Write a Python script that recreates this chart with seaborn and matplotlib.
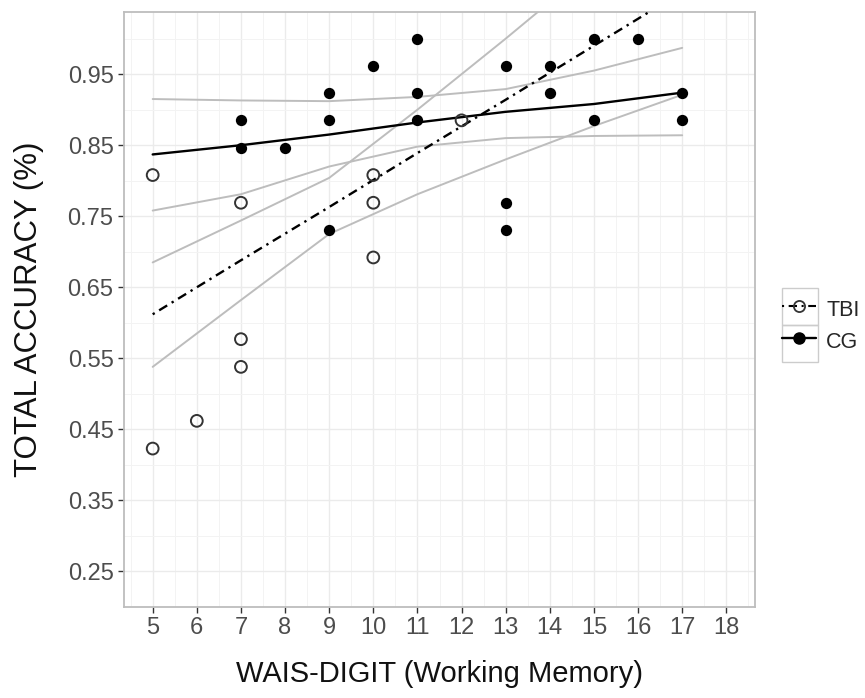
import numpy as np
import pandas as pd
import matplotlib
matplotlib.use("Agg")
import matplotlib.pyplot as plt
import seaborn as sns
from matplotlib.lines import Line2D
from matplotlib.patches import Rectangle

# ---- data ----
tbi_x = [5, 5, 6, 7, 7, 7, 10, 10, 10, 12]
tbi_y = [0.808, 0.423, 0.462, 0.769, 0.577, 0.538, 0.808, 0.769, 0.692, 0.885]
cg_x = [7, 7, 8, 9, 9, 9, 10, 11, 11, 11, 13, 13, 13, 14, 14, 15, 15, 16, 17, 17]
cg_y = [0.885, 0.846, 0.846, 0.923, 0.885, 0.731, 0.962, 1.0, 0.923, 0.885,
        0.962, 0.769, 0.731, 0.962, 0.923, 1.0, 0.885, 1.0, 0.923, 0.885]

fit_x = [5, 7, 9, 11, 13, 15, 17]
tbi_fit = [0.612, 0.688, 0.763, 0.839, 0.914, 0.990, 1.066]
tbi_lo = [0.538, 0.632, 0.725, 0.781, 0.830, 0.877, 0.921]
tbi_hi = [0.685, 0.744, 0.804, 0.900, 1.000, 1.103, 1.211]
cg_fit = [0.837, 0.850, 0.865, 0.882, 0.897, 0.908, 0.924]
cg_lo = [0.758, 0.781, 0.820, 0.848, 0.860, 0.863, 0.864]
cg_hi = [0.915, 0.913, 0.912, 0.918, 0.929, 0.955, 0.987]

x_ticks = list(range(5, 19))
y_ticks = [0.25, 0.35, 0.45, 0.55, 0.65, 0.75, 0.85, 0.95]
y_tick_labels = ["0.25", "0.35", "0.45", "0.55", "0.65", "0.75", "0.85", "0.95"]
groups = ["TBI", "CG"]
x_title = "WAIS-DIGIT (Working Memory)"
y_title = "TOTAL ACCURACY (%)"

# ---- style ----
sns.set_style("white")
plt.rcParams["font.family"] = ["Liberation Sans", "DejaVu Sans"]

W, H = 865, 698
fig = plt.figure(figsize=(W / 100, H / 100), dpi=100)
ax = fig.add_axes([124 / W, 1 - 607 / H, (755 - 124) / W, (607 - 12) / H])

ci_col = "#BDBDBD"
for ys in (tbi_lo, tbi_hi, cg_lo, cg_hi):
    sns.lineplot(x=fit_x, y=ys, ax=ax, color=ci_col, lw=1.4, estimator=None,
                 sort=False, zorder=2)
sns.lineplot(x=fit_x, y=tbi_fit, ax=ax, color="black", lw=1.7, estimator=None,
             sort=False, zorder=3, linestyle=(0, (1, 2.2, 4, 2.2)))
sns.lineplot(x=fit_x, y=cg_fit, ax=ax, color="black", lw=1.7, estimator=None,
             sort=False, zorder=3)

sns.scatterplot(x=cg_x, y=cg_y, ax=ax, color="black", s=66, edgecolor="black",
                linewidth=0, zorder=4)
sns.scatterplot(x=tbi_x, y=tbi_y, ax=ax, marker="o", s=72, facecolor="none",
                edgecolor="#333333", linewidth=1.4, zorder=5)

ax.set_xlim(4.35, 18.65)
ax.set_ylim(0.2125, 1.0375)
ax.set_xticks(x_ticks)
ax.set_xticklabels([str(v) for v in x_ticks])
ax.set_yticks(y_ticks)
ax.set_yticklabels(y_tick_labels)
ax.set_xticks([v + 0.5 for v in range(4, 19)], minor=True)
ax.set_yticks([0.2, 0.3, 0.4, 0.5, 0.6, 0.7, 0.8, 0.9, 1.0], minor=True)
ax.grid(which="major", color="#EBEBEB", lw=1.0, zorder=0)
ax.grid(which="minor", color="#F3F3F3", lw=0.7, zorder=0)
ax.set_axisbelow(True)
ax.tick_params(which="major", length=4.5, width=1, color="#333333",
               labelcolor="#4D4D4D", labelsize=17, pad=3,
               bottom=True, left=True)
ax.tick_params(which="minor", length=0)
for s in ax.spines.values():
    s.set_color("#BDBDBD")
    s.set_linewidth(1.3)

ax.set_xlabel(x_title, fontsize=21, color="#111111", labelpad=15)
ax.set_ylabel(y_title, fontsize=22.5, color="#111111", labelpad=17)

# ---- legend ----
handles = [
    Line2D([], [], color="black", lw=1.5, linestyle=(0, (1, 2.2, 4, 2.2)),
           marker="o", markersize=8, markerfacecolor="none",
           markeredgecolor="#333333", markeredgewidth=1.3),
    Line2D([], [], color="black", lw=1.7, marker="o", markersize=8,
           markerfacecolor="black", markeredgecolor="black"),
]
fig.legend(handles, groups, loc="center left",
           bbox_to_anchor=(782 / W, 1 - 325 / H), frameon=False,
           fontsize=15.5, handlelength=1.6, handleheight=1.6,
           handletextpad=0.45, labelspacing=0.2, borderpad=0,
           borderaxespad=0)
for top in (288, 325):
    fig.patches.append(Rectangle((782 / W, 1 - (top + 37) / H), 36 / W, 37 / H,
                                 transform=fig.transFigure, fill=False,
                                 edgecolor="#CCCCCC", lw=1.0))

fig.savefig("out.png", dpi=100)
